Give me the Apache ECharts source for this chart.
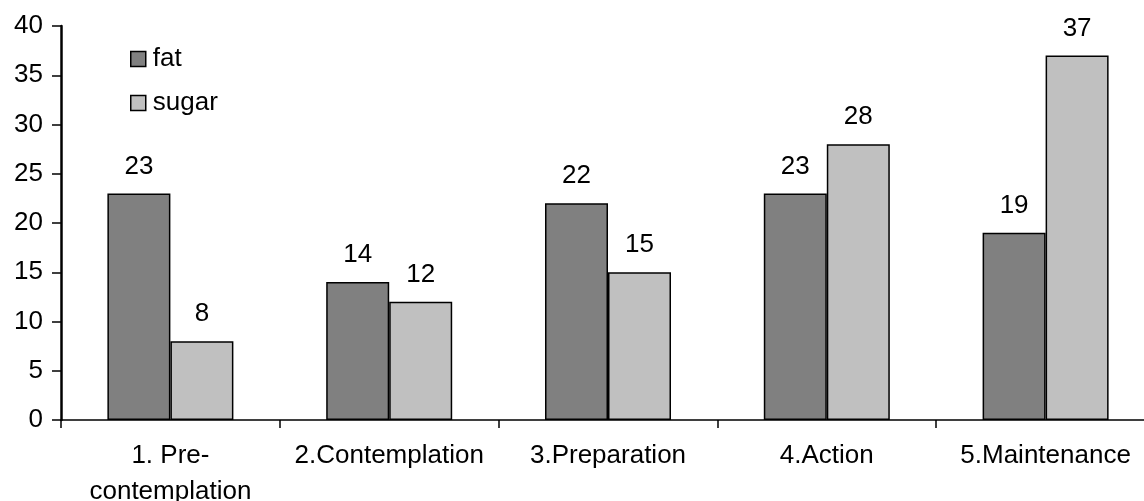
<!DOCTYPE html>
<html>
<head>
<meta charset="utf-8">
<script src="https://cdn.jsdelivr.net/npm/echarts@6/dist/echarts.min.js"></script>
<style>
  html, body { margin: 0; padding: 0; background: #fff; overflow: hidden; }
  #chart { width: 1144px; height: 501px; }
</style>
</head>
<body>
<div id="chart"></div>
<script>
// Stages of change and the share of respondents per stage
const categories = ['1. Pre-\ncontemplation', '2.Contemplation', '3.Preparation', '4.Action', '5.Maintenance'];
const fatValues = [23, 14, 22, 23, 19];
const sugarValues = [8, 12, 15, 28, 37];
const yTicks = { min: 0, max: 40, interval: 5 };

const FONT = '"Liberation Sans", Arial, sans-serif';

const chart = echarts.init(document.getElementById('chart'), null, { renderer: 'canvas' });

const barStyle = (color) => ({
  color: color,
  borderColor: '#000',
  borderWidth: 1.5
});

const valueLabel = {
  show: true,
  position: 'top',
  distance: 14,
  fontFamily: FONT,
  fontSize: 26,
  color: '#000'
};

chart.setOption({
  animation: false,
  backgroundColor: '#fff',
  textStyle: { fontFamily: FONT, color: '#000' },
  // the plot runs a little past the right edge of the page
  grid: {
    left: 61,
    top: 26,
    width: 1094,
    bottom: 81,
    containLabel: false,
    outerBoundsMode: 'none'
  },
  legend: {
    orient: 'vertical',
    left: 125,
    top: 41,
    itemWidth: 15,
    itemHeight: 15,
    itemGap: 18,
    icon: 'rect',
    itemStyle: { borderColor: '#000', borderWidth: 1.5 },
    textStyle: { fontFamily: FONT, fontSize: 26, color: '#000', padding: [0, 0, 0, 2] },
    data: ['fat', 'sugar']
  },
  xAxis: {
    type: 'category',
    data: categories,
    boundaryGap: true,
    axisLine: { lineStyle: { color: '#000', width: 1.5 } },
    axisTick: { show: true, alignWithLabel: false, length: 8, lineStyle: { color: '#000', width: 1.5 } },
    axisLabel: {
      margin: 18,
      fontFamily: FONT,
      fontSize: 26,
      color: '#000',
      lineHeight: 36,
      interval: 0,
      hideOverlap: false
    }
  },
  yAxis: {
    type: 'value',
    min: yTicks.min,
    max: yTicks.max,
    interval: yTicks.interval,
    splitLine: { show: false },
    axisLine: { show: true, lineStyle: { color: '#000', width: 2.5 } },
    axisTick: { show: true, inside: false, length: 9, lineStyle: { color: '#000', width: 1.5 } },
    axisLabel: { margin: 18, fontFamily: FONT, fontSize: 26, color: '#000' }
  },
  series: [
    {
      name: 'fat',
      type: 'bar',
      data: fatValues,
      barWidth: 63,
      barGap: '0%',
      itemStyle: barStyle('#808080'),
      label: valueLabel
    },
    {
      name: 'sugar',
      type: 'bar',
      data: sugarValues,
      barWidth: 63,
      barGap: '0%',
      itemStyle: barStyle('#c0c0c0'),
      label: valueLabel
    }
  ]
});
</script>
</body>
</html>
